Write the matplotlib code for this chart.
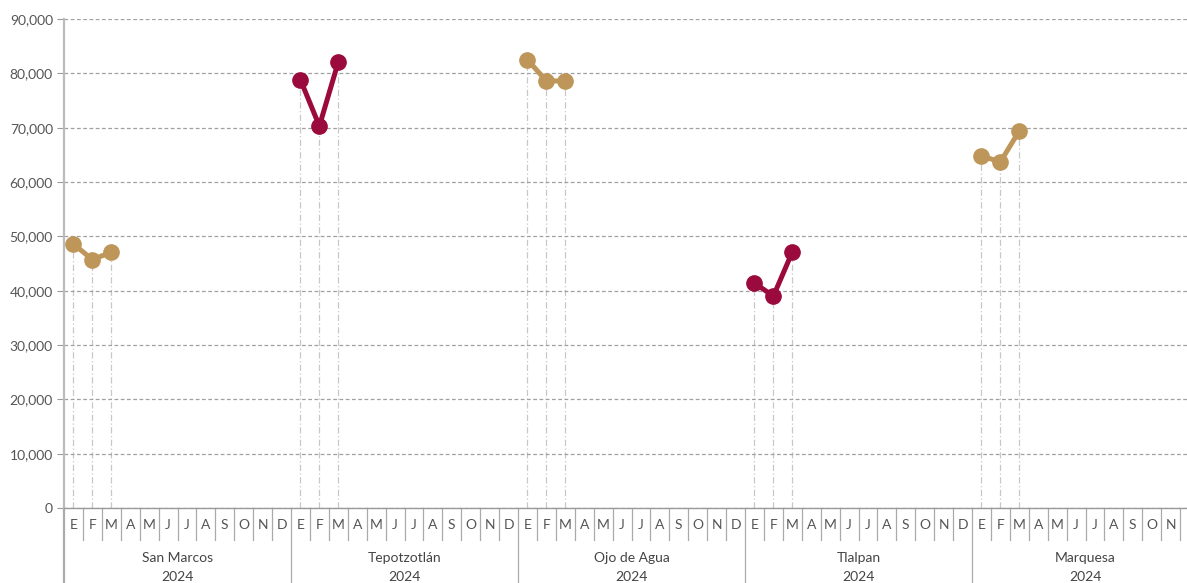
import matplotlib.pyplot as plt
from matplotlib.transforms import blended_transform_factory

plt.rcParams['font.family'] = ['Lato', 'DejaVu Sans']

months = ['E', 'F', 'M', 'A', 'M', 'J', 'J', 'A', 'S', 'O', 'N', 'D']
groups = ['San Marcos', 'Tepotzotlán', 'Ojo de Agua', 'Tlalpan', 'Marquesa']
year = '2024'

# valores por grupo (enero, febrero, marzo)
san_marcos = [48600, 45700, 47100]
tepotzotlan = [78800, 70300, 82100]
ojo_de_agua = [82500, 78600, 78600]
tlalpan = [41400, 39000, 47100]
marquesa = [64800, 63700, 69400]

series = [san_marcos, tepotzotlan, ojo_de_agua, tlalpan, marquesa]
tan = '#BE965A'
maroon = '#9B0A3C'
colors = [tan, maroon, tan, maroon, tan]

W, H = 1187, 583
fig = plt.figure(figsize=(W / 100, H / 100), dpi=100)
left, bottom, top, right = 64, 508, 19, 1199
ax = fig.add_axes([left / W, (H - bottom) / H, (right - left) / W, (bottom - top) / H])

ax.set_xlim(0, 60)
ax.set_ylim(0, 90000)

for g, vals in enumerate(series):
    xs = [g * 12 + i + 0.5 for i in range(len(vals))]
    for x, v in zip(xs, vals):
        ax.plot([x, x], [0, v], color='#c8c8c8', lw=0.9, ls=(0, (5, 2, 1, 2)), zorder=1)
    ax.plot(xs, vals, color=colors[g], lw=3.6, marker='o', ms=11, zorder=3)

ax.set_yticks(range(0, 90001, 10000))
ax.yaxis.set_major_formatter(plt.FuncFormatter(lambda v, p: f'{int(v):,}'))
ax.grid(axis='y', color='#a0a0a0', ls=(0, (3, 2)), lw=0.9, zorder=0)
ax.tick_params(axis='y', length=5, color='#999999', labelcolor='#555555', labelsize=10, pad=3)
ax.set_xticks([])

for s in ['top', 'right']:
    ax.spines[s].set_visible(False)
ax.spines['left'].set_color('#bbbbbb')
ax.spines['left'].set_linewidth(1.6)
ax.spines['bottom'].set_color('#999999')
ax.spines['bottom'].set_linewidth(1.0)

h = bottom - top
tr = blended_transform_factory(ax.transData, ax.transAxes)
for g, name in enumerate(groups):
    for i, m in enumerate(months):
        x = g * 12 + i
        if i > 0:
            ax.plot([x, x], [0, -32 / h], transform=tr, clip_on=False, color='#aaaaaa', lw=0.9)
        # el último mes queda fuera del borde de la figura
        if g == len(groups) - 1 and i == len(months) - 1:
            continue
        ax.text(x + 0.5, -17 / h, m, transform=tr, ha='center', va='center',
                fontsize=10, color='#555555')
    ax.plot([g * 12, g * 12], [0, -80 / h], transform=tr, clip_on=False, color='#aaaaaa',
            lw=1.6 if g == 0 else 0.9)
    ax.text(g * 12 + 6, -50 / h, name, transform=tr, ha='center', va='center',
            fontsize=10, color='#444444')
    ax.text(g * 12 + 6, -69 / h, year, transform=tr, ha='center', va='center',
            fontsize=10, color='#444444')

fig.savefig('out.png', dpi=100)
